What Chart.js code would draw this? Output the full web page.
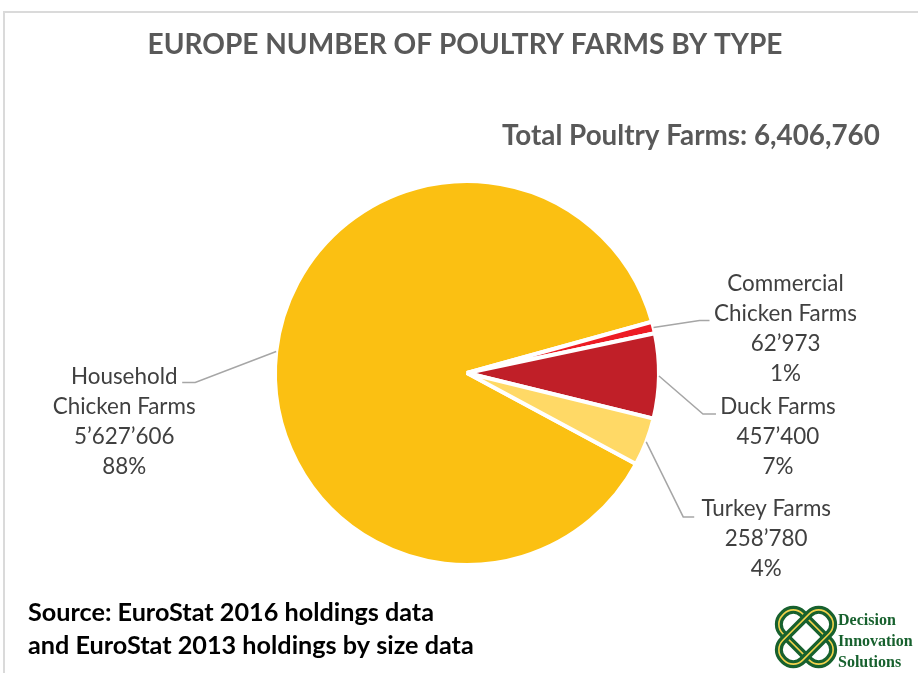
<!DOCTYPE html>
<html><head><meta charset="utf-8">
<script src="https://cdn.jsdelivr.net/npm/chart.js@4.4.1/dist/chart.umd.min.js"></script>
<style>html,body{margin:0;padding:0;background:#fff;overflow:hidden}canvas{display:block}</style>
</head><body>
<canvas id="c" width="918" height="673"></canvas>
<script>
// ---- data ----
const categoryNames = [["Household", "Chicken Farms"], ["Commercial", "Chicken Farms"], ["Duck Farms"], ["Turkey Farms"]];
const farmCounts = [5627606, 62973, 457400, 258780];
const sliceColors = ["#FBC012", "#ED1C24", "#C01F28", "#FFD966"];
const chartTitle = "EUROPE NUMBER OF POULTRY FARMS BY TYPE";
const totalLabel = "Total Poultry Farms: 6,406,760";
const sourceLines = ["Source: EuroStat 2016 holdings data", "and EuroStat 2013 holdings by size data"];
const logoLines = ["Decision", "Innovation", "Solutions"];

// ---- label layout (leader elbows relative to slice edge, text relative to leader end) ----
const labelLayout = [
  {elbow: [-81, 31], run: -13, text: [-58, -6]},
  {elbow: [46, -7], run: 10, text: [76, -37]},
  {elbow: [44, 38], run: 13, text: [62, -7]},
  {elbow: [37, 75], run: 11, text: [72, -8]}
];

const total = farmCounts.reduce((a, b) => a + b, 0);
const fmt = n => n.toLocaleString('en-US').replace(/,/g, '\u2019');

function fitSize(ctx, text, weight, family, width) {
  ctx.font = weight + ' 100px ' + family;
  return 100 * width / ctx.measureText(text).width;
}

function roundRectPath(ctx, w, h, r) {
  ctx.beginPath();
  ctx.moveTo(-w/2 + r, -h/2);
  ctx.lineTo(w/2 - r, -h/2);
  ctx.arc(w/2 - r, -h/2 + r, r, -Math.PI/2, 0);
  ctx.lineTo(w/2, h/2 - r);
  ctx.arc(w/2 - r, h/2 - r, r, 0, Math.PI/2);
  ctx.lineTo(-w/2 + r, h/2);
  ctx.arc(-w/2 + r, h/2 - r, r, Math.PI/2, Math.PI);
  ctx.lineTo(-w/2, -h/2 + r);
  ctx.arc(-w/2 + r, -h/2 + r, r, Math.PI, Math.PI*1.5);
  ctx.closePath();
}

const decor = {
  id: 'decor',
  beforeDraw(chart) {
    const ctx = chart.ctx;
    ctx.save();
    ctx.fillStyle = '#fff';
    ctx.fillRect(0, 0, chart.width, chart.height);
    ctx.strokeStyle = '#DADADA';
    ctx.lineWidth = 2;
    ctx.beginPath();
    ctx.moveTo(4, chart.height); ctx.lineTo(4, 12); ctx.lineTo(chart.width, 12);
    ctx.stroke();
    ctx.restore();
  },
  afterDraw(chart) {
    const ctx = chart.ctx;
    ctx.save();
    const F = 'Lato, "Open Sans", sans-serif';
    // title
    let s = fitSize(ctx, chartTitle, 'bold', F, 635);
    ctx.font = 'bold ' + s + 'px ' + F;
    ctx.fillStyle = '#595959';
    ctx.textAlign = 'center';
    ctx.textBaseline = 'middle';
    ctx.fillText(chartTitle, 465, 45);
    // total
    s = fitSize(ctx, totalLabel, 'bold', F, 378);
    ctx.font = 'bold ' + s + 'px ' + F;
    ctx.textAlign = 'left';
    ctx.fillText(totalLabel, 502, 136);
    // source
    s = fitSize(ctx, sourceLines[1], 'bold', F, 446);
    ctx.font = 'bold ' + s + 'px ' + F;
    ctx.fillStyle = '#000';
    ctx.fillText(sourceLines[0], 28, 613);
    ctx.fillText(sourceLines[1], 28, 646);

    // data labels
    const meta = chart.getDatasetMeta(0);
    const ls = fitSize(ctx, 'Chicken Farms', 'normal', F, 143);
    meta.data.forEach((arc, i) => {
      const p = arc.getProps(['x', 'y', 'startAngle', 'endAngle', 'outerRadius'], true);
      const mid = (p.startAngle + p.endAngle) / 2;
      const sx = p.x + Math.cos(mid) * p.outerRadius;
      const sy = p.y + Math.sin(mid) * p.outerRadius;
      const L = labelLayout[i];
      const ex = sx + L.elbow[0], ey = sy + L.elbow[1];
      const fx = ex + L.run;
      ctx.strokeStyle = '#A6A6A6';
      ctx.lineWidth = 1.5;
      ctx.beginPath();
      ctx.moveTo(sx, sy); ctx.lineTo(ex, ey); ctx.lineTo(fx, ey);
      ctx.stroke();
      const lines = categoryNames[i].concat([fmt(farmCounts[i]), Math.round(farmCounts[i] / total * 100) + '%']);
      ctx.font = ls + 'px ' + F;
      ctx.fillStyle = '#404040';
      ctx.textAlign = 'center';
      ctx.textBaseline = 'middle';
      lines.forEach((t, k) => ctx.fillText(t, fx + L.text[0], ey + L.text[1] + k * 30));
    });

    // logo
    const cx = 806, cy = 637;
    ctx.save();
    ctx.translate(cx, cy);
    [Math.PI/4, -Math.PI/4].forEach(a => {
      ctx.save();
      ctx.rotate(a);
      roundRectPath(ctx, 64, 28, 13);
      ctx.strokeStyle = '#17612E'; ctx.lineWidth = 8; ctx.stroke();
      ctx.strokeStyle = '#F2D24B'; ctx.lineWidth = 1.6; ctx.stroke();
      ctx.restore();
    });
    ctx.restore();
    ctx.font = 'bold 16px "Liberation Serif", "DejaVu Serif", serif';
    ctx.fillStyle = '#17612E';
    ctx.textAlign = 'left';
    ctx.textBaseline = 'alphabetic';
    logoLines.forEach((t, k) => ctx.fillText(t, 838, 625 + k * 21));
    ctx.restore();
  }
};

new Chart(document.getElementById('c'), {
  type: 'pie',
  data: {
    labels: categoryNames.map(n => n.join(' ')),
    datasets: [{
      data: farmCounts,
      backgroundColor: sliceColors,
      borderColor: '#ffffff',
      borderWidth: 4
    }]
  },
  options: {
    responsive: false,
    animation: false,
    rotation: 118.3,
    layout: {padding: {left: 273, right: 257, top: 179, bottom: 106}},
    events: [],
    plugins: {legend: {display: false}, tooltip: {enabled: false}, title: {display: false}}
  },
  plugins: [decor]
});
</script>
</body></html>
